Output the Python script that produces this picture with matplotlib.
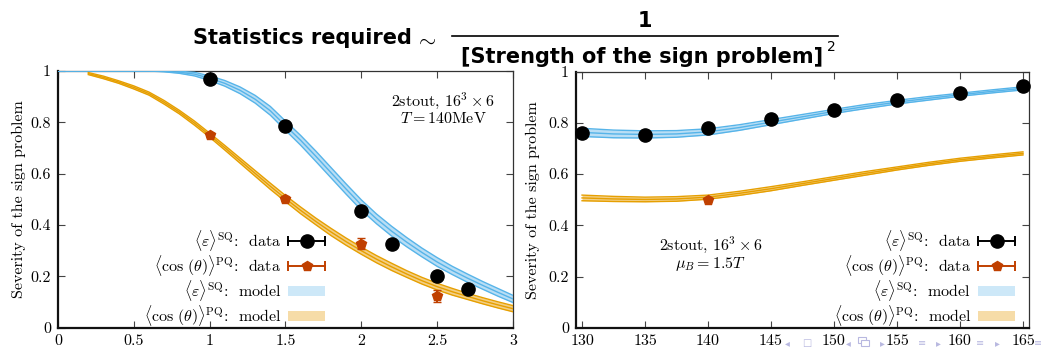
import numpy as np
import matplotlib
matplotlib.use("Agg")
import matplotlib.pyplot as plt
from matplotlib.lines import Line2D
from matplotlib.patches import Patch, Rectangle
from matplotlib.container import ErrorbarContainer
from matplotlib.legend_handler import HandlerBase
from matplotlib.ticker import FuncFormatter, MultipleLocator

plt.rcParams["font.family"] = "serif"
plt.rcParams["font.serif"] = ["cmr10", "DejaVu Serif"]
plt.rcParams["mathtext.fontset"] = "cm"
plt.rcParams["axes.formatter.use_mathtext"] = True

# ---- left panel: mu_B / T scan at T = 140 MeV ----
mu_data = [1.0, 1.5, 2.0, 2.2, 2.5, 2.7]
eps_data = [0.970, 0.785, 0.454, 0.325, 0.202, 0.150]
eps_err = [0.004, 0.004, 0.005, 0.005, 0.005, 0.005]

mu_cos = [1.0, 1.5, 2.0, 2.5]
cos_data = [0.749, 0.503, 0.328, 0.123]
cos_err = [0.008, 0.010, 0.020, 0.022]

mu_model = np.linspace(0.0, 3.0, 31)
eps_model = [1.000, 1.000, 1.000, 1.000, 1.000, 1.000, 1.000, 0.999, 0.995, 0.988,
             0.972, 0.952, 0.925, 0.890, 0.845, 0.787, 0.730, 0.668, 0.604, 0.540,
             0.478, 0.424, 0.376, 0.333, 0.293, 0.256, 0.223, 0.193, 0.165, 0.138,
             0.112]
eps_band = [0.000, 0.000, 0.000, 0.000, 0.000, 0.000, 0.000, 0.002, 0.004, 0.007,
            0.009, 0.011, 0.013, 0.015, 0.017, 0.018, 0.019, 0.020, 0.020, 0.020,
            0.020, 0.019, 0.019, 0.018, 0.017, 0.017, 0.016, 0.016, 0.015, 0.015,
            0.014]

mu_model_cos = np.linspace(0.2, 3.0, 29)
cos_model = [0.990, 0.975, 0.957, 0.936, 0.912, 0.878, 0.840, 0.797, 0.750, 0.701,
             0.651, 0.601, 0.551, 0.503, 0.457, 0.414, 0.373, 0.335, 0.300, 0.267,
             0.237, 0.209, 0.183, 0.160, 0.140, 0.122, 0.105, 0.089, 0.074]
cos_band = [0.004, 0.005, 0.005, 0.006, 0.006, 0.007, 0.007, 0.008, 0.008, 0.009,
            0.010, 0.011, 0.012, 0.012, 0.013, 0.013, 0.014, 0.014, 0.014, 0.014,
            0.014, 0.013, 0.013, 0.013, 0.013, 0.012, 0.012, 0.012, 0.012]

# ---- right panel: temperature scan at mu_B = 1.5 T ----
T_data = [130, 135, 140, 145, 150, 155, 160, 165]
epsT_data = [0.762, 0.752, 0.779, 0.814, 0.852, 0.888, 0.918, 0.944]
epsT_err = [0.004] * 8

T_cos = [140]
cosT_data = [0.500]
cosT_err = [0.006]

T_model = np.linspace(130, 165, 15)
epsT_model = [0.763, 0.757, 0.755, 0.757, 0.765, 0.782, 0.803, 0.824, 0.845, 0.864,
              0.881, 0.896, 0.910, 0.923, 0.935]
epsT_band = [0.016, 0.015, 0.014, 0.013, 0.012, 0.011, 0.010, 0.009, 0.008, 0.008,
             0.007, 0.007, 0.006, 0.006, 0.006]
cosT_model = [0.507, 0.503, 0.501, 0.503, 0.510, 0.525, 0.543, 0.563, 0.583, 0.603,
              0.622, 0.640, 0.656, 0.669, 0.681]
cosT_band = [0.011, 0.010, 0.009, 0.009, 0.008, 0.008, 0.008, 0.007, 0.007, 0.007,
             0.006, 0.006, 0.006, 0.006, 0.006]

BLUE = "#56b4e9"
BLUE_FILL = "#b9def5"
ORANGE = "#e69f00"
ORANGE_FILL = "#f3cf85"
RED = "#c04000"

LABELS = [r"$\langle\varepsilon\rangle^{\rm SQ}$:  data",
          r"$\langle\cos\,(\theta)\rangle^{\rm PQ}$:  data",
          r"$\langle\varepsilon\rangle^{\rm SQ}$:  model",
          r"$\langle\cos\,(\theta)\rangle^{\rm PQ}$:  model"]


class ErrorbarKey(HandlerBase):
    """Legend key drawn as a horizontal error bar with the marker in the middle."""

    def create_artists(self, legend, orig_handle, xdescent, ydescent,
                       width, height, fontsize, trans):
        data_line = orig_handle[0]
        color = data_line.get_color()
        y = height / 2 - ydescent
        x0, x1 = -xdescent, width - xdescent
        bar = Line2D([x0, x1], [y, y], color=color, lw=1.4)
        caps = Line2D([x0, x1], [y, y], ls="none", marker="|", ms=7,
                      mew=1.4, color=color)
        dot = Line2D([(x0 + x1) / 2], [y], ls="none",
                     marker=data_line.get_marker(),
                     ms=data_line.get_markersize(), color=color)
        for a in (bar, caps, dot):
            a.set_transform(trans)
        return [bar, caps, dot]


def draw_band(ax, x, centre, half, line, fill):
    centre = np.asarray(centre)
    half = np.asarray(half)
    ax.fill_between(x, centre - half, centre + half, color=fill, lw=0, zorder=2)
    for curve in (centre - half, centre, centre + half):
        ax.plot(x, curve, color=line, lw=1.0, zorder=3)


def style_axes(ax, pad):
    ax.set_ylim(0, 1)
    ax.yaxis.set_major_locator(MultipleLocator(0.2))
    fmt = FuncFormatter(lambda v, _: "%g" % round(v, 6))
    ax.xaxis.set_major_formatter(fmt)
    ax.yaxis.set_major_formatter(fmt)
    ax.tick_params(direction="in", top=True, right=True, length=5,
                   width=0.8, labelsize=11.5, pad=5, color="#444444")
    for side in ("left", "bottom"):
        ax.spines[side].set_linewidth(1.6)
        ax.spines[side].set_color("#111111")
    for side in ("top", "right"):
        ax.spines[side].set_linewidth(0.9)
        ax.spines[side].set_color("#333333")
    ax.set_ylabel("Severity of the sign problem", fontsize=11.5, labelpad=pad)


def add_legend(ax, handles, anchor_x):
    ax.legend(handles, LABELS, loc="lower right",
              bbox_to_anchor=(anchor_x, 0.0), frameon=False, fontsize=11.5,
              markerfirst=False, handlelength=2.3, handletextpad=0.45,
              labelspacing=0.0, borderpad=0.0, borderaxespad=0.0,
              handleheight=0.55,
              handler_map={ErrorbarContainer: ErrorbarKey()})


fig = plt.figure(figsize=(10.41, 3.5), dpi=100)
ax1 = fig.add_axes([0.0557, 0.0637, 0.4371, 0.7334])
ax2 = fig.add_axes([0.5533, 0.0637, 0.4352, 0.7314])

# left panel
draw_band(ax1, mu_model, eps_model, eps_band, BLUE, BLUE_FILL)
draw_band(ax1, mu_model_cos, cos_model, cos_band, ORANGE, ORANGE_FILL)
e1 = ax1.errorbar(mu_data, eps_data, yerr=eps_err, fmt="o", color="black",
                  ms=9.5, capsize=3, elinewidth=1.2, zorder=5, clip_on=False)
e2 = ax1.errorbar(mu_cos, cos_data, yerr=cos_err, fmt="p", color=RED,
                  ms=7.5, capsize=3, elinewidth=1.4, zorder=5, clip_on=False)
ax1.set_xlim(0, 3)
ax1.xaxis.set_major_locator(MultipleLocator(0.5))
style_axes(ax1, 3)
ax1.text(2.54, 0.855, "2stout, $16^3\\times 6$\n$T = 140$MeV", ha="center",
         va="center", fontsize=11.5, linespacing=1.0)
add_legend(ax1, [e1, e2, Patch(facecolor="#cde8f8", edgecolor="none"),
                 Patch(facecolor="#f6dca8", edgecolor="none")], 0.587)

# right panel
draw_band(ax2, T_model, epsT_model, epsT_band, BLUE, BLUE_FILL)
draw_band(ax2, T_model, cosT_model, cosT_band, ORANGE, ORANGE_FILL)
f1 = ax2.errorbar(T_data, epsT_data, yerr=epsT_err, fmt="o", color="black",
                  ms=9.5, capsize=3, elinewidth=1.2, zorder=5, clip_on=False)
f2 = ax2.errorbar(T_cos, cosT_data, yerr=cosT_err, fmt="p", color=RED,
                  ms=7.5, capsize=3, elinewidth=1.4, zorder=5, clip_on=False)
ax2.set_xlim(129.52, 165.48)
ax2.xaxis.set_major_locator(MultipleLocator(5))
style_axes(ax2, 6)
ax2.text(140.2, 0.29, "2stout, $16^3\\times 6$\n$\\mu_B = 1.5T$", ha="center",
         va="center", fontsize=11.5, linespacing=1.0)
add_legend(ax2, [f1, f2, Patch(facecolor="#cde8f8", edgecolor="none"),
                 Patch(facecolor="#f6dca8", edgecolor="none")], 0.969)

# slide headline
head = dict(family=["DejaVu Sans"], fontweight="bold", fontsize=15,
            color="black")
fig.text(412 / 1041, 1 - 38 / 350, "Statistics required", ha="right",
         va="center", **head)
fig.text(426 / 1041, 1 - 40 / 350, r"$\sim$", ha="center", va="center",
         fontsize=16)
fig.text(645 / 1041, 1 - 21 / 350, "1", ha="center", va="center", **head)
fig.add_artist(Line2D([452 / 1041, 838 / 1041], [1 - 36 / 350, 1 - 36 / 350],
                      color="black", lw=1.2))
fig.text(642 / 1041, 1 - 57 / 350, "[Strength of the sign problem]",
         ha="center", va="center", **head)
fig.text(827 / 1041, 1 - 47 / 350, "2", ha="left", va="center",
         family=["DejaVu Sans"], fontsize=10, color="black")

# beamer navigation symbols along the bottom edge
nav = "#b8b8e0"
nav_y = 1 - 343 / 350
for px, glyph in [(787, "\u25c2"), (807, "\u25a1"), (848, "\u25c2"),
                  (882, "\u25b8"), (922, "\u2261"), (938, "\u25b8"),
                  (980, "\u2261"), (997, "\u25b8"), (1038, "\u2261")]:
    fig.text(px / 1041, nav_y, glyph, ha="center", va="center", fontsize=7,
             color=nav, family=["DejaVu Sans"], zorder=0)
# the "frame" icon is two overlapping boxes
for dx, dy in [(0, 0), (3, -3)]:
    fig.add_artist(Rectangle(((858 + dx) / 1041, (7 + dy) / 350), 8 / 1041,
                             6 / 350, transform=fig.transFigure, fill=True,
                             facecolor="white", edgecolor=nav, lw=0.8))

fig.savefig("out.png", dpi=100)
